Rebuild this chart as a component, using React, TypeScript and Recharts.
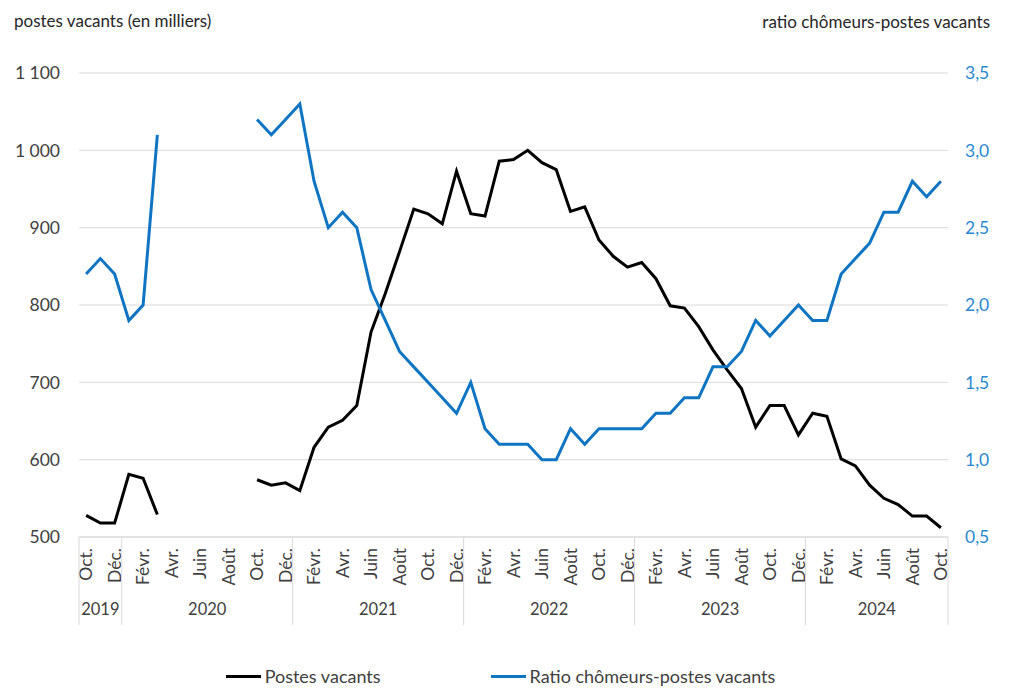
import React from 'react';
import { ComposedChart, Line, XAxis, YAxis, CartesianGrid, Legend } from 'recharts';

// Mois affichés (mois pairs étiquetés seulement)
const MONTH_NAMES = ['Janv.', 'Févr.', 'Mars', 'Avr.', 'Mai', 'Juin', 'Juil.', 'Août', 'Sept.', 'Oct.', 'Nov.', 'Déc.'];
const START_YEAR = 2019;
const START_MONTH = 9; // octobre

// Postes vacants (en milliers), oct. 2019 -> oct. 2024
const POSTES = [
  528, 518, 518, 581, 576, 529, null, null, null, null, null, null, 574, 567, 570,
  560, 616, 642, 651, 670, 765, 815, 869, 924, 918, 905, 973,
  918, 915, 986, 988, 1000, 984, 975, 921, 927, 884, 863, 849,
  855, 834, 799, 796, 772, 742, 716, 692, 642, 670, 670, 632,
  660, 656, 601, 592, 567, 550, 542, 527, 527, 512,
];

// Ratio chômeurs-postes vacants
const RATIO = [
  2.2, 2.3, 2.2, 1.9, 2.0, 3.1, null, null, null, null, null, null, 3.2, 3.1, 3.2,
  3.3, 2.8, 2.5, 2.6, 2.5, 2.1, 1.9, 1.7, 1.6, 1.5, 1.4, 1.3,
  1.5, 1.2, 1.1, 1.1, 1.1, 1.0, 1.0, 1.2, 1.1, 1.2, 1.2, 1.2,
  1.2, 1.3, 1.3, 1.4, 1.4, 1.6, 1.6, 1.7, 1.9, 1.8, 1.9, 2.0,
  1.9, 1.9, 2.2, 2.3, 2.4, 2.6, 2.6, 2.8, 2.7, 2.8,
];

const LEFT_TICKS = [500, 600, 700, 800, 900, 1000, 1100];
const RIGHT_TICKS = [0.5, 1.0, 1.5, 2.0, 2.5, 3.0, 3.5];

const BLACK = '#000000';
const BLUE = '#0f75c3';
const BLUE_TEXT = '#2b88d0';
const TEXT = '#404040';
const GRID = '#d9d9d9';

const CHART_W = 1015;
const CHART_H = 683;
const LEFT_W = 71;
const RIGHT_W = 75;
const PLOT_W = CHART_W - LEFT_W - RIGHT_W;

const data = POSTES.map((p, i) => {
  const m = (START_MONTH + i) % 12;
  const year = START_YEAR + Math.floor((START_MONTH + i) / 12);
  return { key: `${year}-${m + 1}`, month: MONTH_NAMES[m], m, year, postes: p, ratio: RATIO[i] };
});

const BAND = PLOT_W / data.length;

// plage d'indices par année
const yearRange = (year: number) => {
  const idx = data.map((d, i) => (d.year === year ? i : -1)).filter((i) => i >= 0);
  return [idx[0], idx[idx.length - 1]];
};

const fmtLeft = (v: number) => (v >= 1000 ? `${Math.floor(v / 1000)} ${String(v % 1000).padStart(3, '0')}` : String(v));
const fmtRight = (v: number) => v.toFixed(1).replace('.', ',');

const CategoryTick = (props: any) => {
  const { x, y, index } = props;
  const d = data[index];
  if (!d) return null;
  const [s, e] = yearRange(d.year);
  const isStart = index === s;
  const isLast = index === data.length - 1;
  return (
    <g>
      {index % 2 === 0 && (
        <text
          x={x}
          y={y + 11}
          transform={`rotate(-90, ${x}, ${y + 11})`}
          textAnchor="end"
          dy="0.35em"
          fontSize={17.5}
          fill={TEXT}
        >
          {d.month}
        </text>
      )}
      {isStart && (
        <>
          <line x1={x - BAND / 2} x2={x - BAND / 2} y1={y} y2={y + 88} stroke={GRID} />
          <text x={x + ((e - s) / 2) * BAND} y={y + 78} textAnchor="middle" fontSize={16.5} fill={TEXT}>
            {d.year}
          </text>
        </>
      )}
      {isLast && <line x1={x + BAND / 2} x2={x + BAND / 2} y1={y} y2={y + 88} stroke={GRID} />}
    </g>
  );
};

const LegendContent = () => (
  <div
    style={{
      display: 'flex',
      justifyContent: 'center',
      alignItems: 'center',
      gap: 110,
      paddingRight: 30,
      paddingTop: 4,
      fontSize: 18,
      color: TEXT,
    }}
  >
    {[
      { name: 'Postes vacants', color: BLACK },
      { name: 'Ratio chômeurs-postes vacants', color: BLUE },
    ].map((it) => (
      <div key={it.name} style={{ display: 'flex', alignItems: 'center' }}>
        <span style={{ display: 'inline-block', width: 35, height: 3, background: it.color, marginRight: 4 }} />
        <span>{it.name}</span>
      </div>
    ))}
  </div>
);

export default function App() {
  return (
    <div style={{ width: CHART_W, height: CHART_H, fontFamily: 'Lato, sans-serif' }}>
      <ComposedChart
        width={CHART_W}
        height={CHART_H}
        data={data}
        margin={{ top: 65, right: 0, bottom: 0, left: 0 }}
        style={{ fontFamily: 'Lato, sans-serif' }}
      >
        <CartesianGrid yAxisId="left" vertical={false} stroke={GRID} />
        <XAxis
          dataKey="key"
          type="category"
          interval={0}
          height={124}
          padding={{ left: BAND / 2, right: BAND / 2 }}
          tickLine={false}
          tickSize={0}
          tickMargin={0}
          axisLine={{ stroke: GRID }}
          tick={<CategoryTick />}
        />
        <YAxis
          yAxisId="left"
          width={LEFT_W}
          domain={[500, 1100]}
          ticks={LEFT_TICKS}
          tickFormatter={fmtLeft}
          axisLine={false}
          tickLine={false}
          tickSize={6}
          tickMargin={13}
          tick={{ fill: TEXT, fontSize: 17.5 }}
          label={{
            content: () => (
              <text x={6} y={19} fontSize={17} fill="#262626">
                postes vacants (en milliers)
              </text>
            ),
          }}
        />
        <YAxis
          yAxisId="right"
          orientation="right"
          width={RIGHT_W}
          domain={[0.5, 3.5]}
          ticks={RIGHT_TICKS}
          tickFormatter={fmtRight}
          axisLine={false}
          tickLine={false}
          tickSize={6}
          tickMargin={11}
          tick={{ fill: BLUE_TEXT, fontSize: 17.5 }}
          label={{
            content: () => (
              <text x={982} y={20} textAnchor="end" fontSize={17} fill="#262626">
                ratio chômeurs-postes vacants
              </text>
            ),
          }}
        />
        <Legend verticalAlign="bottom" height={30} content={<LegendContent />} />
        <Line
          yAxisId="left"
          type="linear"
          dataKey="postes"
          name="Postes vacants"
          stroke={BLACK}
          strokeWidth={3}
          dot={false}
          isAnimationActive={false}
        />
        <Line
          yAxisId="right"
          type="linear"
          dataKey="ratio"
          name="Ratio chômeurs-postes vacants"
          stroke={BLUE}
          strokeWidth={3}
          dot={false}
          isAnimationActive={false}
        />
      </ComposedChart>
    </div>
  );
}
